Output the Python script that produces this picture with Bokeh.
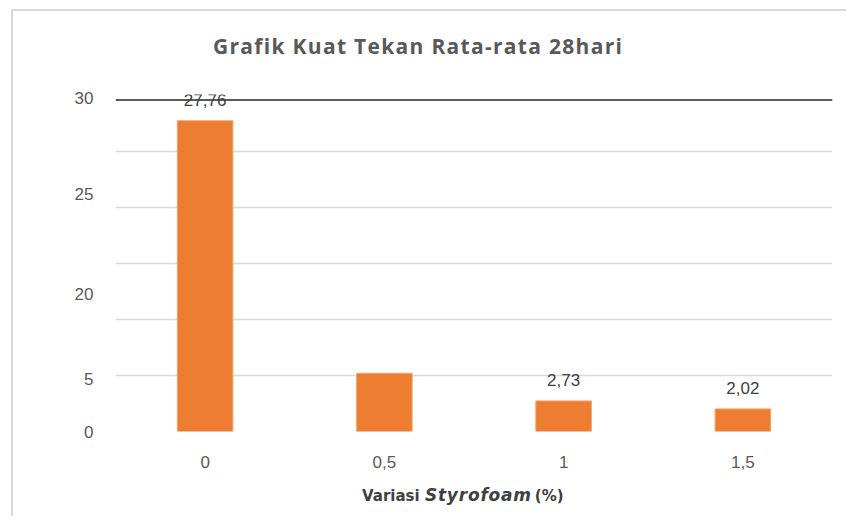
from bokeh.plotting import figure
from bokeh.models import (ColumnDataSource, FixedTicker, Span, LabelSet,
                          Range1d, Div)
from bokeh.layouts import column
from bokeh.core.properties import value
from bokeh.embed import file_html
from bokeh.resources import INLINE

# ---- data ----
title_text = "Grafik Kuat Tekan Rata-rata 28hari"
xlabel_parts = ["Variasi", "Styrofoam", "(%)"]
categories = ["0", "0,5", "1", "1,5"]
values = [27.76, 5.2, 2.73, 2.02]
data_labels = ["27,76", "", "2,73", "2,02"]
ytick_positions = [0, 4.7, 12.3, 21.2, 29.8]
ytick_labels = ["0", "5", "20", "25", "30"]
grid_values = [0, 5, 10, 15, 20, 25]
top_line_value = 29.6

src = ColumnDataSource(dict(cat=categories, val=values, lab=data_labels))

W = 833

title_div = Div(
    text=(f'<div style="padding-left:200px;padding-top:25px;line-height:21px;'
          f'font-family:\'Open Sans\';font-weight:bold;font-size:21px;'
          f'letter-spacing:1.3px;color:#595959;white-space:nowrap">{title_text}</div>'),
    width=W, height=70, margin=(0, 0, 0, 0))

p = figure(width=W, height=395, x_range=categories, y_range=Range1d(0, 30.1),
           output_backend="svg", toolbar_location=None,
           min_border_left=102, min_border_right=14, min_border_top=13,
           min_border_bottom=45)
p.margin = (0, 0, 0, 0)
p.outline_line_color = None
p.background_fill_color = "white"
p.border_fill_color = "white"

p.vbar(x="cat", top="val", width=0.31, source=src,
       fill_color="#ED7D31", line_color="#F4A46E", line_width=1)

# grid
p.xgrid.grid_line_color = None
p.ygrid.ticker = FixedTicker(ticks=grid_values)
p.ygrid.grid_line_color = "#D9D9D9"
p.ygrid.grid_line_width = 1.5

p.add_layout(Span(location=top_line_value, dimension="width",
                  line_color="#595959", line_width=2))

# axes
for ax in (p.xaxis, p.yaxis):
    ax.axis_line_color = None
    ax.major_tick_line_color = None
    ax.minor_tick_line_color = None
    ax.major_label_text_color = "#595959"
    ax.major_label_text_font = "Liberation Sans"
    ax.major_label_text_font_size = "17px"

p.yaxis.ticker = FixedTicker(ticks=ytick_positions)
p.yaxis.major_label_overrides = {v: t for v, t in zip(ytick_positions, ytick_labels)}
p.yaxis.major_label_standoff = 16
p.xaxis.major_label_standoff = 18

# data labels
p.add_layout(LabelSet(x="cat", y="val", text="lab", source=src,
                      text_align="center", text_baseline="bottom",
                      y_offset=15, text_color="#404040",
                      text_font=value("Liberation Sans"),
                      text_font_size=value("17px")))

xlabel_div = Div(
    text=(f'<div style="padding-left:349px;padding-top:9px;line-height:20px;'
          f'font-family:\'DejaVu Sans\';font-weight:bold;font-size:15px;'
          f'color:#404040;white-space:nowrap">{xlabel_parts[0]}&nbsp;'
          f'<i style="font-size:17px;letter-spacing:0.8px">{xlabel_parts[1]}</i>'
          f'&thinsp;{xlabel_parts[2]}</div>'),
    width=W, height=40, margin=(0, 0, 0, 0))

layout = column(title_div, p, xlabel_div, spacing=0)
layout.margin = (9, 0, 0, 11)
layout.styles = {"border-top": "2px solid #d9d9d9",
                 "border-left": "2px solid #d9d9d9",
                 "background-color": "white"}

open("out.html", "w").write(file_html(layout, INLINE))
